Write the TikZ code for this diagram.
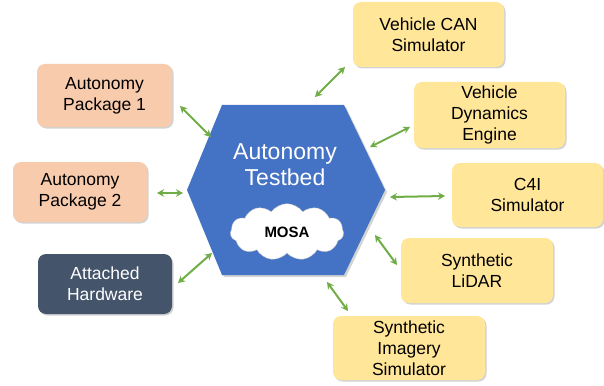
\documentclass[tikz,border=0pt]{standalone}
\usepackage{fontspec}
\setmainfont{Liberation Sans}
\usetikzlibrary{arrows.meta,shapes.symbols,shadows}
\definecolor{hexblue}{HTML}{4472C4}
\definecolor{peach}{HTML}{F8CBAD}
\definecolor{slate}{HTML}{44546A}
\definecolor{sand}{HTML}{FFE699}
\definecolor{leaf}{HTML}{70AD47}
\tikzset{
  box/.style={rectangle, rounded corners=8pt, align=center, font=\fontsize{17.5}{21}\selectfont,
    drop shadow={opacity=0.35, shadow xshift=1.5pt, shadow yshift=-1.5pt}},
  pkg/.style={box, fill=peach, text=black},
  hw/.style={box, fill=slate, text=white},
  sim/.style={box, fill=sand, text=black},
  link/.style={draw=leaf, line width=2pt, {Stealth[length=7pt,width=7.5pt]}-{Stealth[length=7pt,width=7.5pt]}}
}
\begin{document}
\begin{tikzpicture}[x=1pt,y=-1pt]
\useasboundingbox (0,0) rectangle (604,385);
% hexagon
\fill[hexblue, drop shadow={opacity=0.35, shadow xshift=2pt, shadow yshift=-2pt}]
  (187,190) -- (222,105) -- (344,105) -- (385,190) -- (344,275) -- (222,275) -- cycle;
\node[text=white, align=center, font=\fontsize{23}{26}\selectfont] (tb) at (285,165) {Autonomy\\Testbed};
\node[cloud, cloud puffs=11, cloud puff arc=110, cloud ignores aspect, fill=white, draw=gray!40,
  inner xsep=17pt, inner ysep=9.5pt,
  font=\bfseries\fontsize{15}{18}\selectfont] (mosa) at (287,232) {MOSA};
% boxes
\node[pkg, minimum width=135pt, minimum height=63pt] (ap1) at (104.5,95.5) {Autonomy\\Package 1};
\node[pkg, minimum width=134pt, minimum height=60pt] (ap2) at (80,192) {Autonomy\\Package 2};
\node[hw, minimum width=134pt, minimum height=60pt] (ah) at (105,284) {Attached\\Hardware};
\node[sim, minimum width=151pt, minimum height=65pt] (vcan) at (428.5,34.5) {Vehicle CAN\\Simulator};
\node[sim, minimum width=151pt, minimum height=66pt] (vde) at (489.5,115) {Vehicle\\Dynamics\\Engine};
\node[sim, minimum width=151pt, minimum height=64pt] (c4i) at (527.5,195) {C4I\\Simulator};
\node[sim, minimum width=152pt, minimum height=65pt] (lidar) at (477,270.5) {Synthetic\\LiDAR};
\node[sim, minimum width=152pt, minimum height=64pt] (sis) at (409,348) {Synthetic\\Imagery\\Simulator};
% arrow ends
\coordinate (a1) at (180,106); \coordinate (h1) at (211,137);
\coordinate (a2) at (157,193); \coordinate (h2) at (183,193);
\coordinate (a3) at (178,283); \coordinate (h3) at (212,253);
\coordinate (a4) at (345,67);  \coordinate (h4) at (315,97);
\coordinate (a5) at (410,127); \coordinate (h5) at (370,147);
\coordinate (a6) at (445,196); \coordinate (h6) at (390,197);
\coordinate (a7) at (397,265); \coordinate (h7) at (375,235);
\coordinate (a8) at (348,311); \coordinate (h8) at (327,282);
\foreach \i in {1,...,8} \draw[link] (a\i) -- (h\i);
\end{tikzpicture}
\end{document}
